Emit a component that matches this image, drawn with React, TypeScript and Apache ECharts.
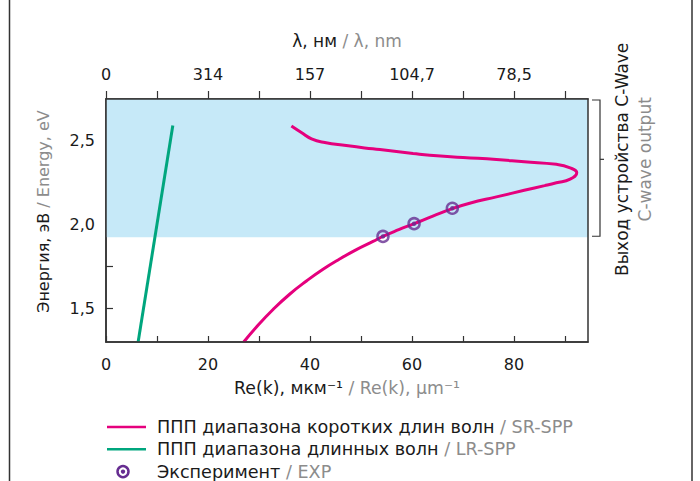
import React, { useEffect, useRef } from 'react';
import * as echarts from 'echarts';

// ---- data ----
const srSpp: [number, number][] = [
  [27.0, 1.3], [29.5, 1.39], [32.75, 1.494], [36.0, 1.585], [39.3, 1.664],
  [42.55, 1.734], [45.8, 1.795], [49.1, 1.851], [52.35, 1.9], [54.3, 1.93],
  [57.4, 1.97], [60.4, 2.006], [64.2, 2.053], [67.9, 2.096], [71.3, 2.128],
  [76.55, 2.166], [82.0, 2.205], [86.0, 2.233], [88.3, 2.25], [91.0, 2.272],
  [92.3, 2.31], [91.0, 2.339], [88.3, 2.36], [82.0, 2.375], [76.55, 2.389],
  [70.0, 2.401], [63.5, 2.414], [60.2, 2.425], [53.7, 2.448], [50.7, 2.458],
  [47.1, 2.472], [42.9, 2.49], [40.3, 2.512], [38.3, 2.55], [36.35, 2.589],
];
const lrSpp: [number, number][] = [[6.3, 1.3], [13.1, 2.592]];
const expPoints: [number, number][] = [[54.3, 1.93], [60.4, 2.006], [67.9, 2.098]];

const xRange = [0, 94.5];
const yRange = [1.3, 2.75];
const xTickValues = [0, 10, 20, 30, 40, 50, 60, 70, 80, 90];
const bottomLabelValues = [0, 20, 40, 60, 80];
const topLabelValues = [0, 20, 40, 60, 80];
const topLabels = ['0', '314', '157', '104,7', '78,5'];
const yTickValues = [1.5, 1.75, 2.0, 2.25, 2.5];
const yLabelValues = [1.5, 2.0, 2.5];
const yLabels = ['1,5', '2,0', '2,5'];
const band = [1.925, 2.75];
const bracketMidE = 2.39;

const legendItems = [
  { ru: 'ППП диапазона коротких длин волн', en: ' / SR-SPP', kind: 'line', color: '#e5007d' },
  { ru: 'ППП диапазона длинных волн', en: ' / LR-SPP', kind: 'line', color: '#00a67e' },
  { ru: 'Эксперимент', en: ' / EXP', kind: 'marker', color: '#662d91' },
];

const FONT = 'DejaVu Sans';
const BLACK = '#1a1a1a';
const GRAY = '#8c8c8c';
const AXIS = '#333333';
const MAGENTA = '#e5007d';
const GREEN = '#00a67e';
const PURPLE = '#662d91';
const BAND = '#c6e9f8';

const richAxis = (size: number) => ({
  a: { color: BLACK, fontFamily: FONT, fontSize: size },
  b: { color: GRAY, fontFamily: FONT, fontSize: size },
});
const richG = (size: number) => ({
  a: { fill: BLACK, fontFamily: FONT, fontSize: size, lineHeight: size },
  b: { fill: GRAY, fontFamily: FONT, fontSize: size, lineHeight: size },
});

export default function App() {
  const ref = useRef<HTMLDivElement>(null);
  useEffect(() => {
    if (!ref.current) return;
    const chart = echarts.init(ref.current, null, { renderer: 'svg' });
    const grid = { left: 106, right: 112, top: 99, bottom: 139 };
    chart.setOption({
      animation: false,
      backgroundColor: '#ffffff',
      textStyle: { fontFamily: FONT },
      grid,
      xAxis: [
        {
          type: 'value', position: 'bottom', min: xRange[0], max: xRange[1],
          axisLine: { show: true, lineStyle: { color: AXIS, width: 1.5 } },
          axisTick: { show: true, inside: true, length: 6, customValues: xTickValues, lineStyle: { color: AXIS, width: 1.2 } },
          axisLabel: { customValues: bottomLabelValues, color: BLACK, fontSize: 16, fontFamily: FONT, margin: 14,
            formatter: (v: number) => String(v) },
          splitLine: { show: false },
          name: '{a|Re(k), мкм⁻¹}{b| / Re(k), μm⁻¹}',
          nameLocation: 'middle', nameGap: 37,
          nameTextStyle: { rich: richAxis(17.3) },
        },
        {
          type: 'value', position: 'top', min: xRange[0], max: xRange[1],
          axisLine: { show: true, lineStyle: { color: AXIS, width: 1.5 } },
          axisTick: { show: true, inside: false, length: 8, customValues: xTickValues, lineStyle: { color: AXIS, width: 1.2 } },
          axisLabel: { customValues: topLabelValues, color: BLACK, fontSize: 16, fontFamily: FONT, margin: 17,
            formatter: (v: number) => {
              const i = topLabelValues.indexOf(v);
              return i >= 0 ? topLabels[i] : '';
            } },
          splitLine: { show: false },
          name: '{a|λ, нм}{b| / λ, nm}',
          nameLocation: 'middle', nameGap: 50,
          nameTextStyle: { rich: richAxis(17) },
        },
      ],
      yAxis: [
        {
          type: 'value', position: 'left', min: yRange[0], max: yRange[1],
          axisLine: { show: true, lineStyle: { color: AXIS, width: 1.5 } },
          axisTick: { show: true, inside: true, length: 7, customValues: yTickValues, lineStyle: { color: AXIS, width: 1.2 } },
          axisLabel: { customValues: yLabelValues, color: BLACK, fontSize: 16, fontFamily: FONT, margin: 11,
            formatter: (v: number) => {
              const i = yLabelValues.findIndex((u) => Math.abs(u - v) < 1e-6);
              return i >= 0 ? yLabels[i] : '';
            } },
          splitLine: { show: false },
          name: '{a|Энергия, эВ}{b| / Energy, eV}',
          nameLocation: 'middle', nameGap: 55,
          nameTextStyle: { rich: richAxis(16), padding: [0, 0, 0, 18] },
        },
      ],
      series: [
        {
          name: 'band', type: 'line', data: [], z: 1, silent: true,
          markArea: {
            silent: true,
            itemStyle: { color: BAND },
            data: [[{ yAxis: band[0] }, { yAxis: band[1] }]],
          },
        },
        {
          name: 'SR-SPP', type: 'line', data: srSpp, smooth: 0.5, showSymbol: false, z: 3,
          lineStyle: { color: MAGENTA, width: 3 },
        },
        {
          name: 'LR-SPP', type: 'line', data: lrSpp, showSymbol: false, z: 3,
          lineStyle: { color: GREEN, width: 3 },
        },
        {
          name: 'EXP', type: 'scatter', data: expPoints, symbol: 'circle', symbolSize: 11, z: 4,
          itemStyle: { color: 'rgba(0,0,0,0)', borderColor: PURPLE, borderWidth: 2.5 },
        },
        {
          name: 'EXP-dot', type: 'scatter', data: expPoints, symbol: 'circle', symbolSize: 4.5, z: 5,
          itemStyle: { color: PURPLE },
        },
      ],
    });

    // decorations computed from the chart's own scales
    const tl = chart.convertToPixel({ gridIndex: 0 }, [xRange[0], yRange[1]]) as number[];
    const br = chart.convertToPixel({ gridIndex: 0 }, [xRange[1], yRange[0]]) as number[];
    const bTop = chart.convertToPixel({ gridIndex: 0 }, [xRange[1], band[1]]) as number[];
    const bBot = chart.convertToPixel({ gridIndex: 0 }, [xRange[1], band[0]]) as number[];
    const bMidP = chart.convertToPixel({ gridIndex: 0 }, [xRange[1], bracketMidE]) as number[];
    const bx = br[0] + 12;
    const bMid = bMidP[1];
    const H = 481;

    const legendGraphics: any[] = [];
    const lx = 107, ly0 = 427, ldy = 22.3;
    legendItems.forEach((it, i) => {
      const y = ly0 + i * ldy;
      if (it.kind === 'line') {
        legendGraphics.push({ type: 'line', shape: { x1: lx, y1: y, x2: lx + 39, y2: y }, style: { stroke: it.color, lineWidth: 2.5 } });
      } else {
        legendGraphics.push({ type: 'circle', shape: { cx: lx + 16, cy: y, r: 5.5 }, style: { fill: 'none', stroke: it.color, lineWidth: 2.5 } });
        legendGraphics.push({ type: 'circle', shape: { cx: lx + 16, cy: y, r: 2.2 }, style: { fill: it.color } });
      }
      legendGraphics.push({
        type: 'text', x: lx + 50, y,
        style: { text: `{a|${it.ru}}{b|${it.en}}`, rich: richG(17.6), verticalAlign: 'middle', align: 'left' },
      });
    });

    chart.setOption({
      graphic: [
        { type: 'line', shape: { x1: 9.5, y1: 0, x2: 9.5, y2: H }, style: { stroke: AXIS, lineWidth: 1.5 }, z: 100 },
        { type: 'line', shape: { x1: 692, y1: 0, x2: 692, y2: H }, style: { stroke: AXIS, lineWidth: 1.5 }, z: 100 },
        { type: 'rect', shape: { x: tl[0], y: tl[1], width: br[0] - tl[0], height: br[1] - tl[1] },
          style: { fill: 'none', stroke: AXIS, lineWidth: 1.5 }, z: 100 },
        { type: 'polyline', shape: { points: [[bx - 8, bTop[1] + 1], [bx, bTop[1] + 1], [bx, bBot[1] - 1], [bx - 8, bBot[1] - 1]] },
          style: { fill: 'none', stroke: AXIS, lineWidth: 1.2 }, z: 100 },
        { type: 'line', shape: { x1: bx, y1: bMid, x2: bx + 4, y2: bMid }, style: { stroke: AXIS, lineWidth: 1.2 }, z: 100 },
        { type: 'text', x: 622, y: bMid, rotation: Math.PI / 2,
          style: { text: 'Выход устройства C-Wave', fill: BLACK, fontFamily: FONT, fontSize: 17, align: 'center', verticalAlign: 'middle' }, z: 100 },
        { type: 'text', x: 645, y: bMid, rotation: Math.PI / 2,
          style: { text: 'C-wave output', fill: GRAY, fontFamily: FONT, fontSize: 17, align: 'center', verticalAlign: 'middle' }, z: 100 },
        ...legendGraphics,
      ],
    });

    return () => chart.dispose();
  }, []);
  return <div ref={ref} style={{ width: 700, height: 481, position: 'absolute', left: 0, top: 0 }} />;
}
